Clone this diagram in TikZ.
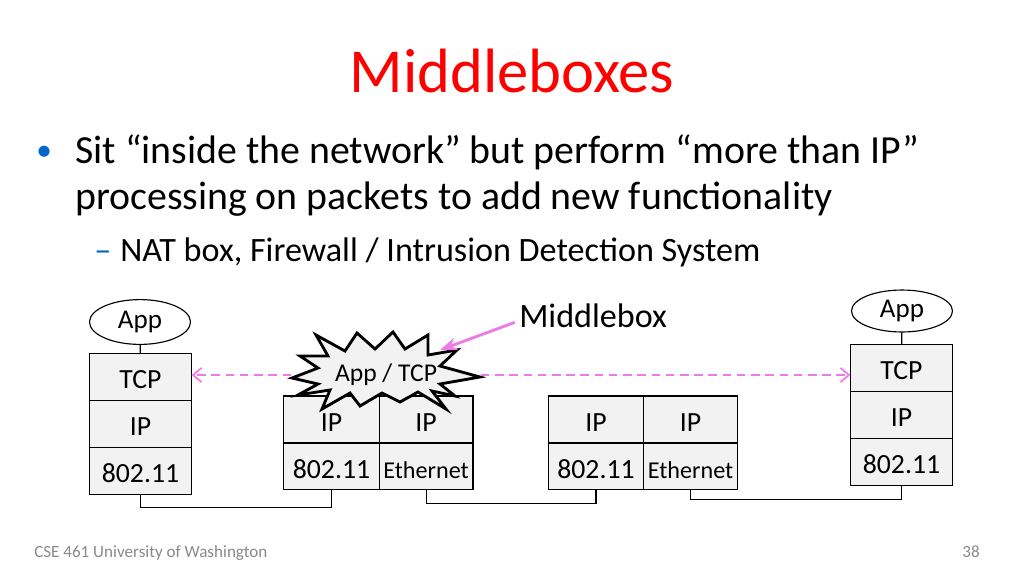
\documentclass[tikz,border=0pt]{standalone}
\usepackage{fontspec}
\setmainfont{Carlito}
\definecolor{titlered}{RGB}{255,0,0}
\definecolor{bulletblue}{RGB}{0,102,204}
\definecolor{linkpink}{RGB}{238,122,230}
\definecolor{boxgray}{RGB}{242,242,242}
\definecolor{footgray}{RGB}{137,137,137}
\usetikzlibrary{arrows.meta, calc, positioning, shapes.geometric}

\begin{document}
\begin{tikzpicture}[x=0.703125pt, y=-0.703125pt,
  layer/.style={draw, fill=boxgray, line width=0.8pt, outer sep=0pt, inner sep=0pt,
    minimum height=33pt, text height=17pt, text depth=0.5pt, font=\fontsize{19.5}{22}\selectfont},
  hostlayer/.style={layer, minimum width=72pt},
  mblayer/.style={layer, minimum width=67pt},
  applayer/.style={draw, ellipse, line width=0.8pt, inner sep=0pt, minimum width=71pt,
    minimum height=31.5pt, font=\fontsize{19}{22}\selectfont},
  words/.style={anchor=base west, inner sep=0pt},
  wire/.style={line width=0.8pt},
  peer/.style={linkpink, line width=1.2pt, dash pattern=on 6pt off 4pt, -{Straight Barb[length=6pt, width=10pt]}}]

  \useasboundingbox (0,0) rectangle (1024,576);

  % Title and bullets
  \node[anchor=base, text=titlered, font=\fontsize{44}{52}\selectfont] (title) at (512,92) {Middleboxes};
  \node[words, text=bulletblue, font=\fontsize{22}{26}\selectfont] (dotA) at (36,160) {•};
  \node[words, font=\fontsize{28}{34}\selectfont] (lineA) at (75,163) {Sit “inside the network” but perform “more than IP”};
  \node[words, font=\fontsize{28}{34}\selectfont] (lineB) at (75,209) {processing on packets to add new functionality};
  \node[words, text=bulletblue, font=\fontsize{24}{29}\selectfont] (dashA) at (94,261) {–};
  \node[words, font=\fontsize{24}{29}\selectfont] (lineC) at (120,261) {NAT box, Firewall / Intrusion Detection System};

  % Left host
  \node[hostlayer] (tcpL) at (140.5,377) {TCP};
  \node[hostlayer, below=0pt of tcpL] (ipL) {IP};
  \node[hostlayer, below=0pt of ipL] (macL) {802.11};
  \node[applayer] (appL) at (140,322) {App};
  \draw[wire] (appL) -- (tcpL);

  % Middlebox
  \node[mblayer] (mbIPa) at (331.5,419.5) {IP};
  \node[mblayer, below=0pt of mbIPa] (mbMACa) {802.11};
  \node[mblayer, minimum width=66pt, right=0pt of mbIPa] (mbIPb) {IP};
  \node[mblayer, minimum width=66pt, below=0pt of mbIPb] (mbMACb) {\fontsize{17}{20}\selectfont Ethernet};

  % Router
  \node[mblayer] (rtIPa) at (596,419.5) {IP};
  \node[mblayer, below=0pt of rtIPa] (rtMACa) {802.11};
  \node[mblayer, minimum width=66pt, right=0pt of rtIPa] (rtIPb) {IP};
  \node[mblayer, minimum width=66pt, below=0pt of rtIPb] (rtMACb) {\fontsize{17}{20}\selectfont Ethernet};

  % Right host
  \node[hostlayer] (tcpR) at (901.5,368) {TCP};
  \node[hostlayer, below=0pt of tcpR] (ipR) {IP};
  \node[hostlayer, below=0pt of ipR] (macR) {802.11};
  \node[applayer, minimum height=29.5pt] (appR) at (902,311) {App};
  \draw[wire] (appR) -- (tcpR);

  % Links
  \draw[wire] (macL.south) -- ++(0,13) -| (mbMACa.south);
  \draw[wire] (mbMACb.south) -- ++(0,14) -| (rtMACa.south);
  \draw[wire] (rtMACb.south) -- ++(0,10) -| (macR.south);

  % Starburst
  \draw[line width=2pt, fill=boxgray, line join=miter]
    (292,378) -- (318,368) -- (300,356) -- (328,356) -- (316,335) -- (345,351)
    -- (357,333) -- (375,349) -- (393,332) -- (405,349) -- (428,335) -- (428,355)
    -- (457,350) -- (440,366) -- (480,377) -- (440,384) -- (455,396) -- (432,391)
    -- (446,409) -- (418,392) -- (400,402) -- (382,393) -- (360,406) -- (350,393)
    -- (322,409) -- (330,390) -- (298,395) -- (318,384) -- cycle;
  \node[inner sep=0pt, minimum width=133pt, font=\fontsize{18}{21}\selectfont] (mbApp) at (386,375) {App / TCP};

  % Peer arrows
  \draw[peer] (mbApp.west) -- (mbApp.west -| tcpL.east);
  \draw[peer] (mbApp.east) -- (mbApp.east -| tcpR.west);

  % Middlebox label
  \node[words, font=\fontsize{24}{29}\selectfont] (mbLabel) at (519,327) {Middlebox};
  \coordinate (mbTip) at (440,350);
  \draw[linkpink, line width=2pt, -{Stealth[length=12pt, width=9pt]}] ([xshift=-3pt, yshift=-5pt]mbLabel.west) -- (mbTip);

  % Footer
  \node[words, text=footgray, font=\fontsize{12}{14}\selectfont] (foot) at (34,557) {CSE 461 University of Washington};
  \node[anchor=base east, inner sep=0pt, text=footgray, font=\fontsize{12}{14}\selectfont] (page) at (980,557) {38};

\end{tikzpicture}
\end{document}
